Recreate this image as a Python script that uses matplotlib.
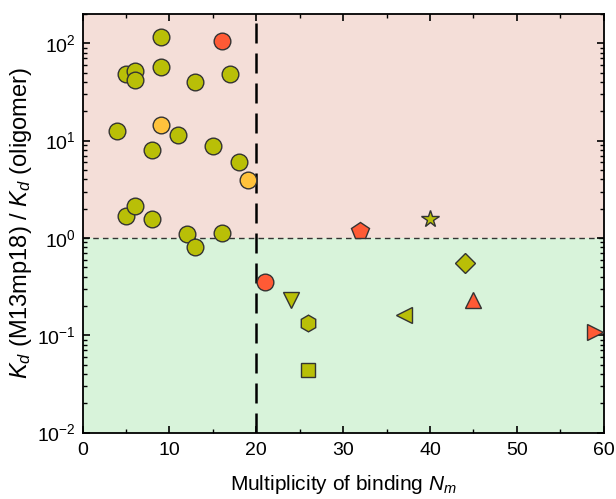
import matplotlib
matplotlib.use("Agg")
import matplotlib.pyplot as plt
from matplotlib.ticker import MultipleLocator, LogLocator, NullFormatter

plt.rcParams["font.family"] = ["Liberation Sans", "DejaVu Sans"]
plt.rcParams["mathtext.fontset"] = "custom"
plt.rcParams["mathtext.rm"] = "Liberation Sans"
plt.rcParams["mathtext.it"] = "Liberation Sans:italic"

# colours
OLIVE = "#B9BF07"
RED = "#FF5A35"
ORANGE = "#FFC23C"
PINK_BG = "#F4DED8"
GREEN_BG = "#D8F3DA"

# circles (Nm, ratio, colour)
circ_nm = [9, 16, 5, 6, 6, 9, 13, 17, 4, 9, 11, 8, 15, 18, 19, 5, 6, 8, 12, 16, 13, 21]
circ_ratio = [117, 105, 48.4, 52.4, 42, 57.5, 40.4, 48.4, 12.5, 14.6, 11.3, 8.0, 8.85, 5.96, 3.96,
              1.67, 2.11, 1.58, 1.09, 1.13, 0.81, 0.353]
circ_color = ["o", "r", "o", "o", "o", "o", "o", "o", "o", "y", "o", "o", "o", "o", "y",
              "o", "o", "o", "o", "o", "o", "r"]

# other shapes (Nm, ratio, marker, colour)
other_nm = [32, 40, 44, 24, 45, 37, 26, 59, 26]
other_ratio = [1.17, 1.55, 0.55, 0.228, 0.232, 0.162, 0.135, 0.108, 0.0437]
other_marker = ["p", "*", "D", "v", "^", "<", "h", ">", "s"]
other_color = ["r", "o", "o", "o", "r", "o", "o", "r", "o"]

cmap = {"o": OLIVE, "r": RED, "y": ORANGE}
msize = {"p": 13, "*": 13, "D": 10, "v": 12, "^": 12, "<": 12, "h": 12, ">": 12, "s": 10}

fig = plt.figure(figsize=(6.16, 4.99), dpi=100)
ax = fig.add_axes([0.134, 0.133, 0.846, 0.839])

ax.axhspan(1, 1000, color=PINK_BG, zorder=0, lw=0)
ax.axhspan(1e-3, 1, color=GREEN_BG, zorder=0, lw=0)
ax.axhline(1, color="#333333", ls=(0, (4, 3)), lw=1.0, zorder=1)
ax.axvline(20, color="black", ls=(0, (8, 4)), lw=1.8, zorder=1)

for x, y, c in zip(circ_nm, circ_ratio, circ_color):
    ax.plot(x, y, "o", ms=12, mfc=cmap[c], mec="#333333", mew=1.0, zorder=3)
for x, y, m, c in zip(other_nm, other_ratio, other_marker, other_color):
    ax.plot(x, y, m, ms=msize[m], mfc=cmap[c], mec="#333333", mew=1.0, zorder=3)

ax.set_yscale("log")
ax.set_xlim(0, 60)
ax.set_ylim(0.01, 200)
ax.xaxis.set_major_locator(MultipleLocator(10))
ax.xaxis.set_minor_locator(MultipleLocator(5))
ax.yaxis.set_minor_locator(LogLocator(base=10, subs=range(2, 10), numticks=20))
ax.yaxis.set_minor_formatter(NullFormatter())
ax.set_yticks([0.01, 0.1, 1, 10, 100])
ax.set_yticklabels([r"10$^{-2}$", r"10$^{-1}$", r"10$^{0}$", r"10$^{1}$", r"10$^{2}$"])

ax.tick_params(which="both", direction="in", top=True, right=True, labelsize=14)
ax.tick_params(axis="x", pad=7)
ax.tick_params(axis="y", pad=5)
ax.tick_params(which="major", length=5, width=1.2)
ax.tick_params(which="minor", length=3, width=1.0)
for s in ax.spines.values():
    s.set_linewidth(1.3)

ax.set_xlabel(r"Multiplicity of binding $N_m$", fontsize=15, labelpad=10)
ax.set_ylabel(r"$K_d$ (M13mp18) / $K_d$ (oligomer)", fontsize=17, labelpad=2)

fig.savefig("out.png", dpi=100)
